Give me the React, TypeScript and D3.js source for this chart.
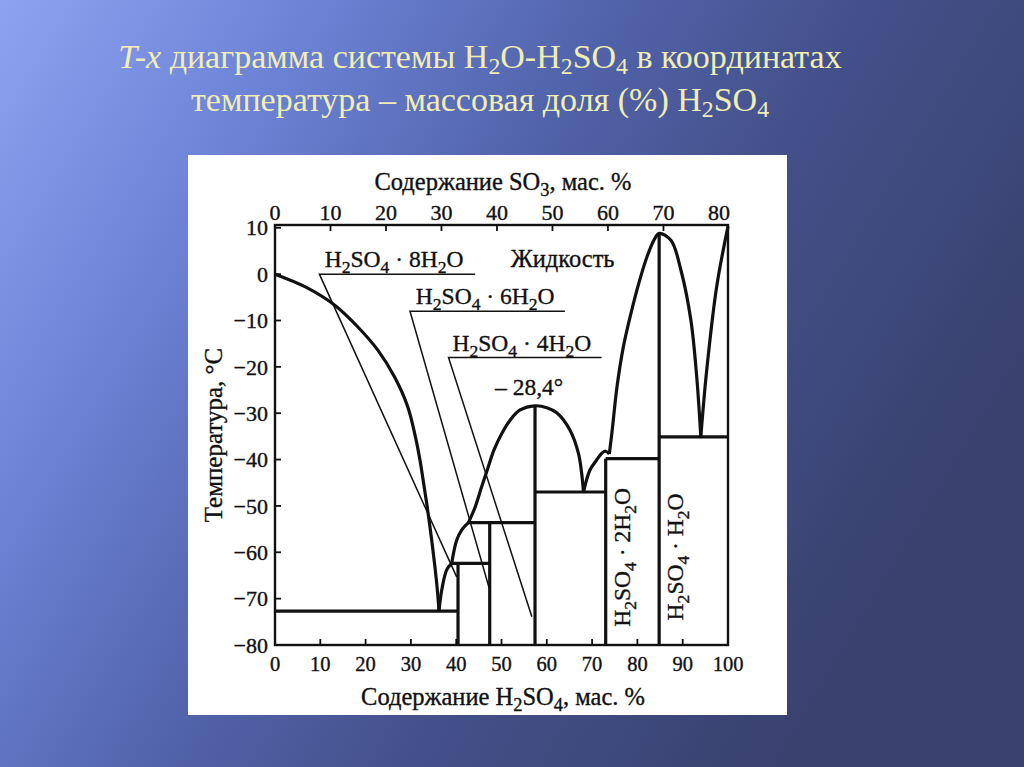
import React from "react";
import * as d3 from "d3";

// ---------- data (wt.% H2SO4, temperature °C) ----------
const h2so4Ticks = [0, 10, 20, 30, 40, 50, 60, 70, 80, 90, 100];
const so3Ticks = [0, 10, 20, 30, 40, 50, 60, 70, 80];
const tempTicks = [10, 0, -10, -20, -30, -40, -50, -60, -70, -80];

const iceCurve: [number, number][] = [
  [0, 0], [6.6, -2.7], [13.2, -6.7], [18.3, -11.4], [22.7, -16.4], [26.4, -22.2],
  [29.3, -28.6], [31.0, -35.1], [32.0, -40.1], [32.7, -44.4], [33.6, -50.2],
  [34.5, -56.7], [35.3, -63.1], [35.9, -68.8], [36.2, -72.7],
];
const octaCurve: [number, number][] = [[36.2, -72.7], [36.8, -68.2], [37.9, -63.8], [39.0, -62.4]];
const hexaCurve: [number, number][] = [[39.0, -62.4], [40.1, -57.4], [41.2, -55.2], [42.7, -53.6]];
const tetraCurve: [number, number][] = [
  [42.7, -53.6], [44.2, -50.2], [45.6, -45.9], [47.0, -41.8], [48.3, -38.0], [50.1, -34.3],
  [51.9, -31.5], [54.1, -29.3], [57.4, -28.4], [60.0, -28.8], [62.2, -29.9], [65.1, -33.6],
  [67.0, -38.7], [67.7, -43.0], [68.1, -47.0],
];
const diCurve: [number, number][] = [[68.1, -47.0], [69.5, -42.3], [71.0, -40.1], [72.2, -38.6], [73.0, -38.2], [73.8, -38.8]];
const monoCurve: [number, number][] = [
  [73.8, -38.8], [74.4, -34.0], [75.5, -24.3], [76.9, -15.7], [78.5, -8.8], [80.3, -2.0],
  [82.1, 3.7], [83.8, 7.6], [84.8, 8.8], [87.4, 7.3], [89.6, 0.9], [91.8, -9.9],
  [93.1, -22.2], [94.0, -35.1],
];
const acidCurve: [number, number][] = [[94.0, -35.1], [95.3, -20.7], [97.5, -2.7], [100, 10.3]];

const hydrateComp = [40.4, 47.4, 57.4, 73.0, 84.8];
const hydrateTop = [-62.4, -53.6, -28.4, -39.8, 8.8];

const invariantT = [-72.7, -62.4, -53.6, -47.0, -39.8, -35.1];
const invariantFrom = [0, 39.0, 42.7, 57.4, 73.0, 84.8];
const invariantTo = [40.4, 47.4, 57.4, 73.0, 84.8, 100];

const leaderLabels = ["H_2SO_4 · 8H_2O", "H_2SO_4 · 6H_2O", "H_2SO_4 · 4H_2O"];
const leaderStart: [number, number][] = [[9.8, 0], [29.8, -8.0], [38.3, -18.0]];
const leaderLineEnd = [44.2, 64.0, 72.1];
const leaderTip: [number, number][] = [[40.1, -65.3], [47.3, -67.8], [56.7, -73.9]];
const leaderLabelX = [26.3, 46.4, 54.5];

const curves = [iceCurve, octaCurve, hexaCurve, tetraCurve, diCurve, monoCurve, acidCurve];

// ---------- layout ----------
const W = 1024;
const H = 767;
const FONT = "Liberation Serif, Times New Roman, serif";

const x = d3.scaleLinear().domain([0, 100]).range([275, 728]);
const y = d3.scaleLinear().domain([-80, 10.6]).range([645, 225]);
const so3ToH2so4 = (v: number) => (v * 98) / 80;

const line = d3
  .line<[number, number]>()
  .x((d) => x(d[0]))
  .y((d) => y(d[1]))
  .curve(d3.curveCatmullRom.alpha(0.5));

function chem(s: string, size: number, subRatio = 0.75, shiftRatio = 0.26) {
  const tokens = s.split(/(_\d)/).filter((t) => t.length);
  const sub = size * subRatio;
  const shift = size * shiftRatio;
  let down = false;
  return tokens.map((t, i) => {
    if (t[0] === "_") {
      const el = (
        <tspan key={i} dy={down ? 0 : shift} fontSize={sub}>
          {t.slice(1)}
        </tspan>
      );
      down = true;
      return el;
    }
    const el = (
      <tspan key={i} dy={down ? -shift : 0}>
        {t}
      </tspan>
    );
    down = false;
    return el;
  });
}

export default function App() {
  const x0 = x(0);
  const x1 = x(100);
  const yTop = y(10.6);
  const yBot = y(-80);
  const labelSize = 23.5;
  const ts = 34;
  const as = 24.5;
  return (
    <div style={{ position: "absolute", left: 0, top: 0, width: W, height: H }}>
      <svg width={W} height={H} viewBox={`0 0 ${W} ${H}`} style={{ display: "block" }}>
        <defs>
          <linearGradient id="bg" x1="0" y1="0" x2="1" y2="0.45">
            <stop offset="0" stopColor="#8ea3f0" />
            <stop offset="0.25" stopColor="#6d83d6" />
            <stop offset="0.5" stopColor="#5163aa" />
            <stop offset="0.72" stopColor="#434f88" />
            <stop offset="1" stopColor="#39426f" />
          </linearGradient>
        </defs>
        <rect x={0} y={0} width={W} height={H} fill="url(#bg)" />

        {/* title */}
        <g style={{ fontFamily: FONT, whiteSpace: "pre" }} fill="#f0eeb2" fontSize={ts} textAnchor="middle">
          <text x={480} y={68}>
            <tspan fontStyle="italic">T-x</tspan>
            <tspan> диаграмма системы </tspan>
            {chem("H_2O-H_2SO_4", ts, 0.7, 0.18)}
            <tspan dy={-ts * 0.18}> в координатах</tspan>
          </text>
          <text x={480} y={111}>
            <tspan>температура – массовая доля (%) </tspan>
            {chem("H_2SO_4", ts, 0.7, 0.18)}
          </text>
        </g>

        {/* white panel */}
        <rect x={188} y={155} width={599} height={560} fill="#ffffff" />

        <g style={{ fontFamily: FONT, whiteSpace: "pre" }} fill="#111" stroke="none">
          {/* frame */}
          <rect x={x0} y={yTop} width={x1 - x0} height={yBot - yTop} fill="none" stroke="#111" strokeWidth={2.4} />

          {/* ticks */}
          {h2so4Ticks.slice(1, -1).map((t) => (
            <line key={"b" + t} x1={x(t)} x2={x(t)} y1={yBot} y2={yBot - 6} stroke="#111" strokeWidth={1.8} />
          ))}
          {so3Ticks.slice(1, -1).map((t) => (
            <line key={"t" + t} x1={x(so3ToH2so4(t))} x2={x(so3ToH2so4(t))} y1={yTop} y2={yTop + 6} stroke="#111" strokeWidth={1.8} />
          ))}
          {tempTicks.slice(0, -1).map((t) => (
            <line key={"l" + t} x1={x0} x2={x0 + 6} y1={y(t)} y2={y(t)} stroke="#111" strokeWidth={1.8} />
          ))}

          <g stroke="#111" strokeWidth={0.35}>
            {/* tick labels */}
            {h2so4Ticks.map((t) => (
              <text key={"bl" + t} x={x(t)} y={671} fontSize={20.5} textAnchor="middle">{t}</text>
            ))}
            {so3Ticks.map((t) => (
              <text key={"tl" + t} x={x(so3ToH2so4(t))} y={220} fontSize={22} textAnchor="middle">{t}</text>
            ))}
            {tempTicks.map((t) => (
              <text key={"ll" + t} x={268} y={y(t)} dy="0.35em" fontSize={22} textAnchor="end">
                {t < 0 ? "\u2212" + Math.abs(t) : String(t)}
              </text>
            ))}

            {/* axis titles */}
            <text x={503} y={190} fontSize={as} textAnchor="middle">
              <tspan>Содержание </tspan>
              {chem("SO_3", as)}
              <tspan dy={-as * 0.26}>,  мас.  %</tspan>
            </text>
            <text x={503} y={705} fontSize={as} textAnchor="middle">
              <tspan>Содержание </tspan>
              {chem("H_2SO_4", as)}
              <tspan dy={-as * 0.26}>,  мас.  %</tspan>
            </text>
            <text transform="translate(222,435) rotate(-90)" fontSize={25} textAnchor="middle">
              Температура,  °C
            </text>

            {/* labels */}
            {leaderLabels.map((l, i) => (
              <text key={"lt" + i} x={x(leaderLabelX[i])} y={y(leaderStart[i][1]) - 7} fontSize={labelSize} textAnchor="middle">
                {chem(l, labelSize)}
              </text>
            ))}
            <text x={x(63.5)} y={y(1.6)} fontSize={24.5} textAnchor="middle">Жидкость</text>
            <text x={x(56.1)} y={y(-26.1)} fontSize={labelSize} textAnchor="middle">{"\u2013 28,4°"}</text>
            <text transform={`translate(${x(78.4)},${y(-61.1)}) rotate(-90)`} fontSize={labelSize} textAnchor="middle">
              {chem("H_2SO_4 · 2H_2O", labelSize)}
            </text>
            <text transform={`translate(${x(90.1)},${y(-61.0)}) rotate(-90)`} fontSize={labelSize} textAnchor="middle">
              {chem("H_2SO_4 · H_2O", labelSize)}
            </text>
          </g>

          {/* leader lines (thin) */}
          {leaderStart.map((s, i) => (
            <path
              key={"ld" + i}
              d={`M${x(leaderLineEnd[i])},${y(s[1])}L${x(s[0])},${y(s[1])}L${x(leaderTip[i][0])},${y(leaderTip[i][1])}`}
              fill="none"
              stroke="#111"
              strokeWidth={1.5}
            />
          ))}

          {/* invariant horizontals */}
          {invariantT.map((t, i) => (
            <line key={"h" + i} x1={x(invariantFrom[i])} x2={x(invariantTo[i])} y1={y(t)} y2={y(t)} stroke="#111" strokeWidth={3.2} />
          ))}
          {/* hydrate verticals */}
          {hydrateComp.map((c, i) => (
            <line key={"v" + i} x1={x(c)} x2={x(c)} y1={yBot} y2={y(hydrateTop[i])} stroke="#111" strokeWidth={3.2} />
          ))}

          {/* liquidus curves */}
          {curves.map((c, i) => (
            <path key={"c" + i} d={line(c) || ""} fill="none" stroke="#111" strokeWidth={3.2} strokeLinejoin="round" />
          ))}
        </g>
      </svg>
    </div>
  );
}
